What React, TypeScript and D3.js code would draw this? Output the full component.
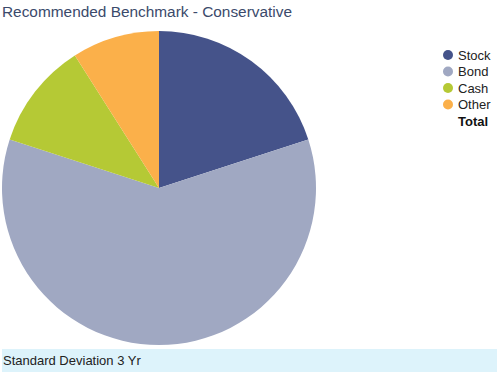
import React from "react";
import * as d3 from "d3";

const categories = ["Stock", "Bond", "Cash", "Other"];
const values = [20, 60, 11, 9];
const colors = ["#45538a", "#a0a8c2", "#b5c935", "#fbb04a"];
const title = "Recommended Benchmark - Conservative";
const footer = "Standard Deviation 3 Yr";

export default function App() {
  const W = 499, H = 380;
  const cx = 159, cy = 188, r = 157;
  const pie = d3.pie<number>().sort(null).value((d) => d);
  const arcs = pie(values);
  const arc = d3.arc<d3.PieArcDatum<number>>().innerRadius(0).outerRadius(r);
  const font = "'Liberation Sans', Arial, sans-serif";
  return (
    <svg width={W} height={H} style={{ position: "absolute", left: 0, top: 0, background: "#fff" }}>
      <text x={2} y={17} fontFamily={font} fontSize={15.4} fill="#3b4a6b">{title}</text>
      <g transform={`translate(${cx},${cy})`}>
        {arcs.map((a, i) => (
          <path key={i} d={arc(a) || ""} fill={colors[i]} />
        ))}
      </g>
      <g fontFamily={font} fontSize={13}>
        {categories.map((c, i) => (
          <g key={c} transform={`translate(448,${55 + i * 16.5})`}>
            <circle cx={0} cy={0} r={5} fill={colors[i]} />
            <text x={10} y={4.5} fill="#222">{c}</text>
          </g>
        ))}
        <text x={458} y={125.5} fontWeight="bold" fill="#111">Total</text>
      </g>
      <rect x={2} y={349} width={495} height={23} fill="#ddf3fb" />
      <text x={3} y={365} fontFamily={font} fontSize={13} fill="#222">{footer}</text>
    </svg>
  );
}
